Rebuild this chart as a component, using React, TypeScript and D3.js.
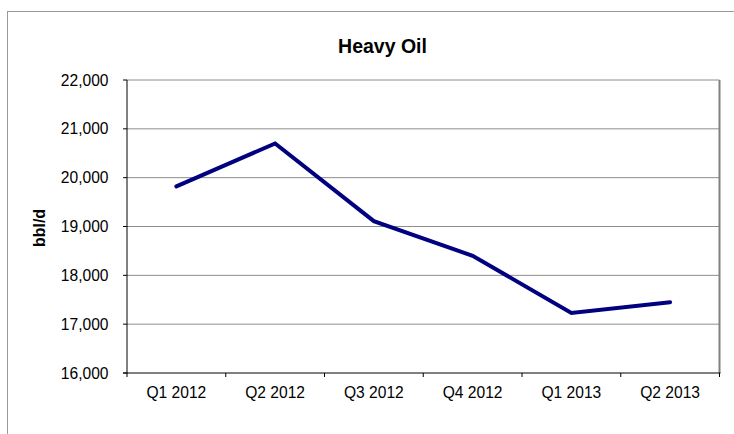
import React from "react";
import * as d3 from "d3";

const categories = ["Q1 2012", "Q2 2012", "Q3 2012", "Q4 2012", "Q1 2013", "Q2 2013"];
const values = [19820, 20700, 19110, 18400, 17230, 17450];
const yTicks = [16000, 17000, 18000, 19000, 20000, 21000, 22000];
const title = "Heavy Oil";
const yLabel = "bbl/d";

export default function App() {
  const W = 734, H = 434;
  const left = 127, right = 719.5, top = 80, bottom = 373;
  const x = d3.scaleBand<string>().domain(categories).range([left, right]).padding(0);
  const y = d3.scaleLinear().domain([16000, 22000]).range([bottom, top]);
  const fmt = d3.format(",");
  const line = d3
    .line<number>()
    .x((_, i) => (x(categories[i]) as number) + x.bandwidth() / 2)
    .y((d) => y(d));
  const font = "'Liberation Sans', Arial, sans-serif";
  return (
    <svg width={W} height={H} style={{ position: "absolute", left: 0, top: 0 }} fontFamily={font}>
      <rect x={0} y={0} width={W} height={H} fill="#fff" />
      <rect x={7.5} y={11.5} width={W} height={H} fill="none" stroke="#9a9a9a" strokeWidth={1} />
      <text x={382.5} y={53} textAnchor="middle" fontSize={19.5} fontWeight="bold" fill="#000">
        {title}
      </text>
      <text
        transform={`translate(45,228) rotate(-90)`}
        textAnchor="middle"
        fontSize={16}
        fontWeight="bold"
        fill="#000"
      >
        {yLabel}
      </text>
      {yTicks.map((t) => (
        <g key={t}>
          {t !== 16000 && (
            <line x1={left} x2={right} y1={y(t)} y2={y(t)} stroke="#8c8c8c" strokeWidth={1} />
          )}
          <line x1={left - 4} x2={left} y1={y(t)} y2={y(t)} stroke="#000" strokeWidth={1} />
          <text x={108.5} y={y(t) + 5.5} textAnchor="end" fontSize={15.6} fill="#000">
            {fmt(t)}
          </text>
        </g>
      ))}
      <line x1={right} x2={right} y1={top} y2={bottom} stroke="#808080" strokeWidth={2} />
      <line x1={left} x2={left} y1={top} y2={bottom + 0.5} stroke="#000" strokeWidth={1} />
      <line x1={left - 4} x2={right + 1} y1={bottom} y2={bottom} stroke="#000" strokeWidth={1} />
      {categories.map((c, i) => (
        <g key={c}>
          <line
            x1={(x(c) as number) + x.bandwidth()}
            x2={(x(c) as number) + x.bandwidth()}
            y1={bottom}
            y2={bottom + 4}
            stroke="#000"
          />
          {i === 0 && <line x1={left} x2={left} y1={bottom} y2={bottom + 4} stroke="#000" />}
          <text
            x={(x(c) as number) + x.bandwidth() / 2}
            y={398}
            textAnchor="middle"
            fontSize={15.6}
            fill="#000"
          >
            {c}
          </text>
        </g>
      ))}
      <path
        d={line(values) || ""}
        fill="none"
        stroke="#000080"
        strokeWidth={4}
        strokeLinejoin="miter"
        strokeLinecap="round"
      />
    </svg>
  );
}
